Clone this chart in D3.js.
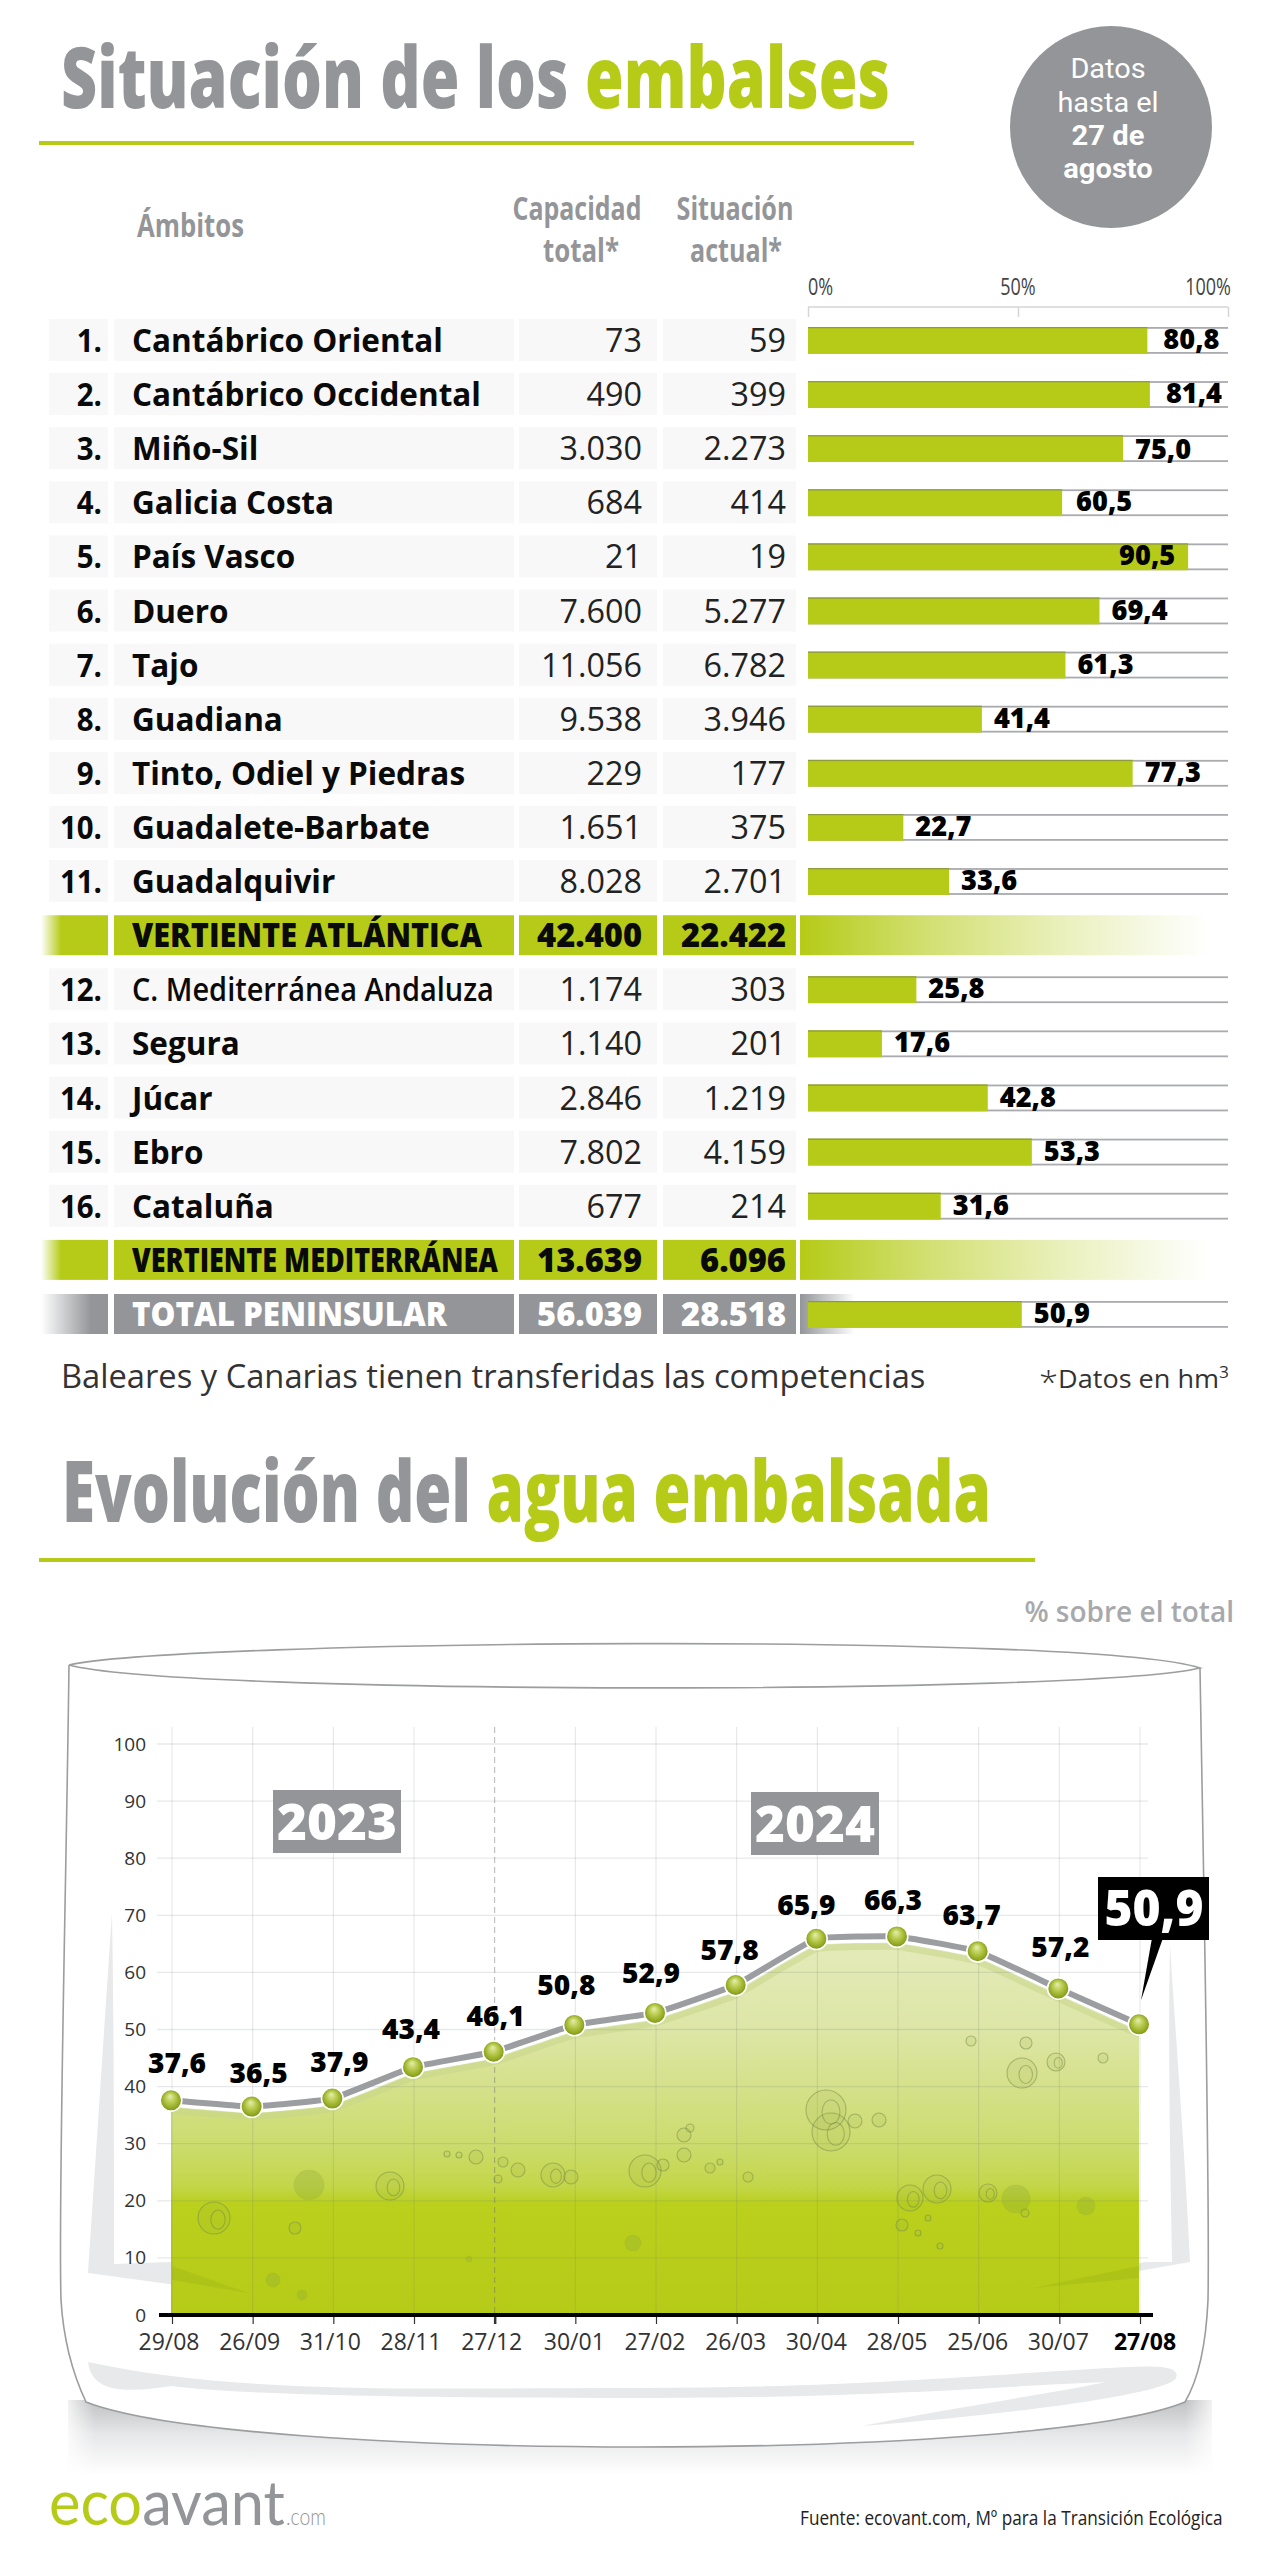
<!DOCTYPE html>
<html><head><meta charset="utf-8">
<style>html,body{margin:0;padding:0;background:#fff}svg{display:block}text{font-family:"Open Sans",sans-serif}</style>
<script src="https://cdn.jsdelivr.net/npm/d3@7"></script>
</head><body><svg id="c" width="1280" height="2560"></svg>
<script>
// ---------- data ----------
const rowNames = ["Cantábrico Oriental","Cantábrico Occidental","Miño-Sil","Galicia Costa","País Vasco","Duero","Tajo","Guadiana","Tinto, Odiel y Piedras","Guadalete-Barbate","Guadalquivir","VERTIENTE ATLÁNTICA","C. Mediterránea Andaluza","Segura","Júcar","Ebro","Cataluña","VERTIENTE MEDITERRÁNEA","TOTAL PENINSULAR"];
const rowCapacity = [73,490,3030,684,21,7600,11056,9538,229,1651,8028,42400,1174,1140,2846,7802,677,13639,56039];
const rowCurrent = [59,399,2273,414,19,5277,6782,3946,177,375,2701,22422,303,201,1219,4159,214,6096,28518];
const rowPercent = [80.8,81.4,75.0,60.5,90.5,69.4,61.3,41.4,77.3,22.7,33.6,null,25.8,17.6,42.8,53.3,31.6,null,50.9];
const rowIndex = [1,2,3,4,5,6,7,8,9,10,11,null,12,13,14,15,16,null,null];
const pctTicks = [0,50,100];
const dates = ["29/08","26/09","31/10","28/11","27/12","30/01","27/02","26/03","30/04","28/05","25/06","30/07","27/08"];
const reservoir = [37.6,36.5,37.9,43.4,46.1,50.8,52.9,57.8,65.9,66.3,63.7,57.2,50.9];
const yTicks = [0,10,20,30,40,50,60,70,80,90,100];

// ---------- layout helpers ----------
const GREEN="#b5cb17", GREY="#939598";
const es = d3.formatLocale({decimal:",",thousands:".",grouping:[3],currency:["","€"]});
const fInt = es.format(",d"), f1 = es.format(".1f");
const svg = d3.select("#c");
const defs = svg.append("defs");
function txt(p,str,x,y,o={}){
  const t=p.append("text").attr("text-anchor",o.anchor||"start")
    .attr("font-size",o.size||20).attr("font-weight",o.weight||400).attr("fill",o.fill||"#111");
  if(o.family) t.style("font-family",o.family);
  (Array.isArray(str)?str:[[str,o.fill||"#111"]]).forEach(([s,c])=>t.append("tspan").attr("fill",c).text(s));
  let k=o.sx||1;
  if(o.width){k=o.width/t.node().getComputedTextLength();}
  t.attr("transform",`translate(${x},${y}) scale(${k},1)`);
  return t;
}
function hGrad(id,stops){const g=defs.append("linearGradient").attr("id",id);stops.forEach(([o,c,a])=>g.append("stop").attr("offset",o).attr("stop-color",c).attr("stop-opacity",a==null?1:a));}
hGrad("fadeInG",[[0,GREEN,0],[.3,GREEN,1],[1,GREEN,1]]);
hGrad("fadeOutG",[[0,GREEN,1],[.3,GREEN,.62],[.65,GREEN,.28],[1,GREEN,0]]);
hGrad("fadeInK",[[0,GREY,0],[.75,GREY,1],[1,GREY,1]]);
hGrad("fadeOutK",[[0,GREY,1],[1,GREY,0]]);

// ---------- header ----------
txt(svg,[["Situación de los ",GREY],["embalses",GREEN]],61,108,{size:85,weight:800,width:829});
svg.append("rect").attr("x",39).attr("y",141).attr("width",875).attr("height",4).attr("fill",GREEN);
svg.append("circle").attr("cx",1111).attr("cy",127).attr("r",101).attr("fill",GREY);
[["Datos",78,400,1.05],["hasta el",112,400,1.05],["27 de",145,700,1.06],["agosto",178,700,1.06]].forEach(([s,y,w,k])=>
  txt(svg,s,1108,y,{size:27.5,weight:w,fill:"#fff",anchor:"middle",family:"Roboto, sans-serif",sx:k}));
txt(svg,"Ámbitos",137,237,{size:33,weight:700,fill:GREY,width:107});
txt(svg,"Capacidad",577,220,{size:33,weight:700,fill:GREY,anchor:"middle",width:129});
txt(svg,"total*",581,262,{size:33,weight:700,fill:GREY,anchor:"middle",width:76});
txt(svg,"Situación",735,220,{size:33,weight:700,fill:GREY,anchor:"middle",width:117});
txt(svg,"actual*",736,262,{size:33,weight:700,fill:GREY,anchor:"middle",width:92});

// ---------- table ----------
const xPct = d3.scaleLinear().domain([0,100]).range([808,1228]);
const yRow = d3.scalePoint().domain(d3.range(rowNames.length)).range([340,1314]);
const axT = svg.append("g").attr("transform","translate(0,307)")
  .call(d3.axisTop(xPct).tickValues(pctTicks).tickSize(-10).tickFormat(""));
axT.selectAll("path,line").attr("stroke","#d4d5d6").attr("stroke-width",1.5);
axT.select("path").attr("d","M808,0H1228");
pctTicks.forEach(t=>txt(svg,t+"%",t===0?808:t===100?1231:xPct(t),295,{size:24,fill:"#444",anchor:t===0?"start":t===100?"end":"middle",sx:.75}));

const labelNudge = {"Cantábrico Oriental":4,"Cantábrico Occidental":4,"Galicia Costa":2,"País Vasco":-81};
rowNames.forEach((name,i)=>{
  const cy=yRow(i), g=svg.append("g");
  const sub=rowPercent[i]==null, tot=name==="TOTAL PENINSULAR", spec=sub||tot;
  const col=tot?GREY:GREEN;
  const cols=[[49,59],[114,400],[519,138],[663,133]];
  cols.forEach(([x,w],j)=>{
    const r=g.append("rect").attr("x",x).attr("width",w).attr("y",cy-(spec?20:21)).attr("height",spec?40:42);
    if(!spec) r.attr("fill","#f8f8f8");
    else if(j===0) r.attr("x",41).attr("width",67).attr("fill",`url(#fadeIn${tot?"K":"G"})`);
    else r.attr("fill",col);
  });
  if(spec){
    g.append("rect").attr("x",800).attr("y",cy-20).attr("width",tot?55:408).attr("height",40).attr("fill",`url(#fadeOut${tot?"K":"G"})`);
  }
  const tc=tot?"#fff":"#0a0a0a";
  if(rowIndex[i]!=null) txt(g,rowIndex[i]+".",102,cy+12,{size:32,weight:700,anchor:"end",fill:"#0a0a0a",sx:.92});
  if(spec){
    txt(g,name,132,cy+12,{size:33,weight:800,fill:tc,width:name==="VERTIENTE ATLÁNTICA"?350:name==="TOTAL PENINSULAR"?315:366});
    txt(g,fInt(rowCapacity[i]),642,cy+12,{size:33,weight:800,fill:tc,anchor:"end",width:105});
    txt(g,fInt(rowCurrent[i]),786,cy+12,{size:33,weight:800,fill:tc,anchor:"end",width:rowCurrent[i]>=10000?105:86});
  } else {
    const o={size:32,weight:700,fill:"#0a0a0a",sx:.985};
    if(name.startsWith("C. Med")) {o.width=362;o.weight=600;}
    txt(g,name,132,cy+12,o);
    txt(g,fInt(rowCapacity[i]),642,cy+12,{size:33,weight:400,fill:"#222",anchor:"end",sx:.98});
    txt(g,fInt(rowCurrent[i]),786,cy+12,{size:33,weight:400,fill:"#222",anchor:"end",sx:.98});
  }
  if(rowPercent[i]!=null){
    const v=rowPercent[i];
    g.append("rect").attr("x",xPct(0)).attr("y",cy-13).attr("width",xPct(100)-xPct(0)).attr("height",1.8).attr("fill","#a9abae");
    g.append("rect").attr("x",xPct(0)).attr("y",cy+12).attr("width",xPct(100)-xPct(0)).attr("height",1.8).attr("fill","#a9abae");
    g.append("rect").attr("x",xPct(0)).attr("y",cy-13).attr("width",xPct(v)-xPct(0)).attr("height",26.8).attr("fill",GREEN);
    g.append("rect").attr("x",xPct(0)).attr("y",cy-13).attr("width",xPct(v)-xPct(0)).attr("height",1.2).attr("fill","#8e9a3e");
    const dx=12+(labelNudge[name]||0);
    txt(g,f1(v),xPct(v)+dx,cy+9+(name==="Miño-Sil"?2:0),{size:28,weight:800,fill:"#000",sx:.97});
  }
});

txt(svg,"Baleares y Canarias tienen transferidas las competencias",61,1388,{size:32,fill:"#333",width:865});
const foot=svg.append("text").attr("fill","#333").attr("font-size",25);
foot.append("tspan").attr("font-size",32).attr("font-weight",300).attr("dy",5).text("*");
foot.append("tspan").attr("dy",-5).text("Datos en hm");
foot.append("tspan").attr("font-size",16).attr("dy",-10).text("3");
const fk=190/foot.node().getComputedTextLength();
foot.attr("transform",`translate(1039,1388) scale(${fk},1)`);

// ---------- second title ----------
txt(svg,[["Evolución del ",GREY],["agua embalsada",GREEN]],62,1522,{size:85,weight:800,width:929});
svg.append("rect").attr("x",39).attr("y",1558).attr("width",996).attr("height",4).attr("fill",GREEN);
txt(svg,"% sobre el total",1234,1622,{size:28,weight:600,fill:"#a7a9ac",anchor:"end"});

// ---------- glass ----------
const sg=defs.append("linearGradient").attr("id","shadow").attr("x1",0).attr("x2",0).attr("y1",0).attr("y2",1);
sg.append("stop").attr("offset",0).attr("stop-color","#bfc0c2");
sg.append("stop").attr("offset",.45).attr("stop-color","#e6e7e8");
sg.append("stop").attr("offset",1).attr("stop-color","#fff");
const sh=defs.append("linearGradient").attr("id","shadowH");
[[0,0],[.03,1],[.97,1],[1,0]].forEach(([o,a])=>sh.append("stop").attr("offset",o).attr("stop-color","#fff").attr("stop-opacity",a));
const mk=defs.append("mask").attr("id","shMask");
mk.append("rect").attr("x",60).attr("y",2395).attr("width",1160).attr("height",90).attr("fill","url(#shadowH)");
svg.append("rect").attr("x",68).attr("y",2400).attr("width",1144).attr("height",75).attr("fill","url(#shadow)").attr("mask","url(#shMask)");
svg.append("path").attr("d","M69,1665 C66,1900 58,2200 61,2300 C64,2350 78,2385 86,2402 C240,2462 1040,2462 1185,2402 C1198,2380 1206,2345 1208,2300 C1210,2200 1204,1900 1200,1668")
  .attr("fill","#fff").attr("stroke","#9b9d9f").attr("stroke-width",1.6);
svg.append("path").attr("d","M69,1665 C180,1640 1090,1632 1200,1668 C1090,1695 180,1695 69,1665Z")
  .attr("fill","#fff").attr("stroke","#9b9d9f").attr("stroke-width",1.6);
// reflections on the glass
const refl="#e8e9ea";
svg.append("path").attr("d","M112,1913 C104,2030 95,2170 88,2273 L250,2295 L170,2262 L114,2264 C114,2150 114,2030 112,1913Z").attr("fill",refl);
svg.append("path").attr("d","M1170,1945 C1176,2040 1186,2170 1190,2262 L1030,2290 L1145,2262 L1172,2262 C1170,2150 1168,2040 1170,1945Z").attr("fill",refl);
svg.append("path").attr("d","M88,2362 C240,2395 420,2388 640,2388 C860,2388 1020,2372 1130,2367 C1165,2365 1180,2368 1176,2378 C1170,2392 1040,2412 862,2426 C950,2408 1060,2392 1106,2382 C1000,2386 880,2398 640,2398 C420,2398 240,2395 171,2386 C130,2392 92,2395 88,2362Z").attr("fill",refl);

// ---------- line chart ----------
const xDate = d3.scalePoint().domain(dates).range([171,1139]);
const yVal = d3.scaleLinear().domain([0,100]).range([2315,1744]);
const ag=defs.append("linearGradient").attr("id","water").attr("gradientUnits","userSpaceOnUse").attr("x1",0).attr("x2",0).attr("y1",yVal(70)).attr("y2",yVal(0));
[[70,"#e6ecc0"],[50,"#dde6a6"],[30,"#ccdc6e"],[22.5,"#c3d648"],[19.5,"#bad01d"],[0,"#b5cb17"]].forEach(([v,c])=>
  ag.append("stop").attr("offset",(yVal(v)-yVal(70))/(yVal(0)-yVal(70))).attr("stop-color",c));
const curve=d3.curveCardinal.tension(.72);
const area=d3.area().x((d,i)=>xDate(dates[i])).y0(yVal(0)).y1(d=>yVal(d)+7).curve(curve);
svg.append("path").datum(reservoir).attr("d",area).attr("fill","url(#water)");
svg.append("path").datum(reservoir).attr("d",d3.line().x((d,i)=>xDate(dates[i])).y(d=>yVal(d)+10).curve(curve))
  .attr("fill","none").attr("stroke","#c9d68a").attr("stroke-width",7).attr("opacity",.55);
svg.append("path").attr("d","M172,2266 L248,2293 L172,2280Z").attr("fill","#a5bb18").attr("opacity",.55);
svg.append("path").attr("d","M1139,2266 L1033,2288 L1139,2278Z").attr("fill","#a5bb18").attr("opacity",.55);

// grid
const gridG=svg.append("g");
gridG.selectAll("line.h").data(yTicks.filter(d=>d>0)).join("line").attr("x1",157).attr("x2",1148)
  .attr("y1",d=>yVal(d)).attr("y2",d=>yVal(d)).attr("stroke","#71787a").attr("stroke-opacity",.17).attr("stroke-width",1.3);
gridG.selectAll("line.v").data(dates).join("line").attr("x1",d=>xDate(d)+1).attr("x2",d=>xDate(d)+1)
  .attr("y1",1727).attr("y2",yVal(0)).attr("stroke",(d,i)=>i===4?"#6c7072":"#71787a")
  .attr("stroke-opacity",(d,i)=>i===4?.5:.2).attr("stroke-width",1).attr("stroke-dasharray",(d,i)=>i===4?"6,4":null);

// bubbles (decorative, glass water texture)
const bubbleSpots=[[214,2218,16],[309,2185,15,1],[295,2228,6],[390,2186,14],[273,2280,7,1],[302,2295,5,1],[476,2157,7],[459,2155,3],[447,2154,3],[503,2162,5],[518,2170,7],[498,2179,4],[553,2175,12],[571,2177,7],[645,2171,16],[663,2165,6],[684,2135,7],[690,2128,4],[684,2155,7],[710,2168,5],[720,2162,3],[748,2177,5],[826,2110,20],[831,2132,19],[855,2121,7],[879,2120,7],[910,2198,13],[937,2189,14],[902,2225,6],[918,2233,3],[928,2218,3],[940,2246,3],[988,2193,9],[1016,2199,14,1],[1025,2213,4],[1086,2206,9,1],[469,2259,3,1],[633,2243,8,1],[1026,2043,6],[1056,2062,9],[1022,2073,15],[971,2041,5],[1103,2058,5]];
const bub=svg.append("g");
bub.selectAll("circle").data(bubbleSpots).join("circle").attr("cx",d=>d[0]).attr("cy",d=>d[1]).attr("r",d=>d[2])
  .attr("fill",d=>d[3]?"#8fa83a":"#9db04a").attr("fill-opacity",d=>d[3]?.3:.12)
  .attr("stroke","#7c8f4a").attr("stroke-opacity",d=>d[3]?.08:.55).attr("stroke-width",1.1);
bub.selectAll("ellipse").data(bubbleSpots.filter(d=>d[2]>8&&!d[3])).join("ellipse")
  .attr("cx",d=>d[0]+d[2]*.25).attr("cy",d=>d[1]+d[2]*.1).attr("rx",d=>d[2]*.45).attr("ry",d=>d[2]*.6)
  .attr("fill","none").attr("stroke","#6e8245").attr("stroke-opacity",.45).attr("stroke-width",1.1);

// axes
const axX=svg.append("g").attr("transform",`translate(1,${yVal(0)})`).call(d3.axisBottom(xDate).tickSize(9).tickFormat(""));
axX.select("path").remove();
axX.selectAll("line").attr("stroke","#333").attr("stroke-width",(d,i)=>i===4?2.5:1.2);
svg.append("rect").attr("x",159).attr("y",yVal(0)-2).attr("width",994).attr("height",4).attr("fill","#000");
const axY=svg.append("g").attr("transform","translate(146,0)").call(d3.axisLeft(yVal).tickValues(yTicks).tickSize(0).tickPadding(0));
axY.select("path").remove();
axY.selectAll("text").attr("font-size",19).attr("fill","#333").style("font-family",'"Open Sans",sans-serif').attr("dy",".32em");
dates.forEach((d,i)=>txt(svg,d,xDate(d)+ (i===12?6:0)-(i<5?2:0),2350,{size:23,weight:i===12?700:400,fill:i===12?"#000":"#333",anchor:"middle"}));

// line and balls
svg.append("path").datum(reservoir).attr("d",d3.line().x((d,i)=>xDate(dates[i])).y(d=>yVal(d)).curve(curve))
  .attr("fill","none").attr("stroke","#9b9da1").attr("stroke-width",6);
const rg=defs.append("radialGradient").attr("id","ball").attr("cx",.5).attr("cy",.5).attr("r",.55).attr("fx",.45).attr("fy",.3);
[[0,"#e6edb4"],[.35,"#c0d15a"],[.75,"#94aa22"],[1,"#73890f"]].forEach(([o,c])=>rg.append("stop").attr("offset",o).attr("stop-color",c));
svg.append("g").selectAll("circle").data(reservoir).join("circle")
  .attr("cx",(d,i)=>xDate(dates[i])).attr("cy",d=>yVal(d)).attr("r",10.8)
  .attr("fill","url(#ball)").attr("stroke","#fff").attr("stroke-width",1.6);

// point labels
const ptDx=[6,7,7,-2,2,-8,-4,-6,-10,-4,-6,2], ptDy=[-27,-24,-27,-28,-26,-30,-30,-25,-24,-26,-26,-31];
reservoir.slice(0,12).forEach((v,i)=>txt(svg,f1(v),xDate(dates[i])+ptDx[i],yVal(v)+ptDy[i],{size:29,weight:800,fill:"#000",anchor:"middle",sx:.97}));

// year tags
[["2023",273,1790],["2024",751,1792]].forEach(([t,x,y])=>{
  svg.append("rect").attr("x",x).attr("y",y).attr("width",128).attr("height",63).attr("fill",GREY);
  txt(svg,t,x+64,y+50,{size:50,weight:800,fill:"#fff",anchor:"middle",width:120});
});
// latest value callout
const last=reservoir[reservoir.length-1];
const lx=xDate(dates[dates.length-1]), ly=yVal(last);
svg.append("path").attr("d",`M${lx+13},1938 L${lx+24},1938 L${lx+2},${ly-24}Z`).attr("fill","#000");
svg.append("rect").attr("x",1098).attr("y",1877).attr("width",111).attr("height",63).attr("fill","#000");
txt(svg,f1(last),1154,1926,{size:50,weight:800,fill:"#fff",anchor:"middle",width:99});

// ---------- footer ----------
txt(svg,[["eco",GREEN],["avant","#939598"]],49,2525,{size:62,weight:400,family:"Lato, sans-serif",width:236});
txt(svg,".com",286,2525,{size:24,weight:300,fill:"#939598",family:"Lato, sans-serif",width:40});
txt(svg,"Fuente: ecovant.com, Mº para la Transición Ecológica",800,2525,{size:20,fill:"#222",width:423});
</script></body></html>
